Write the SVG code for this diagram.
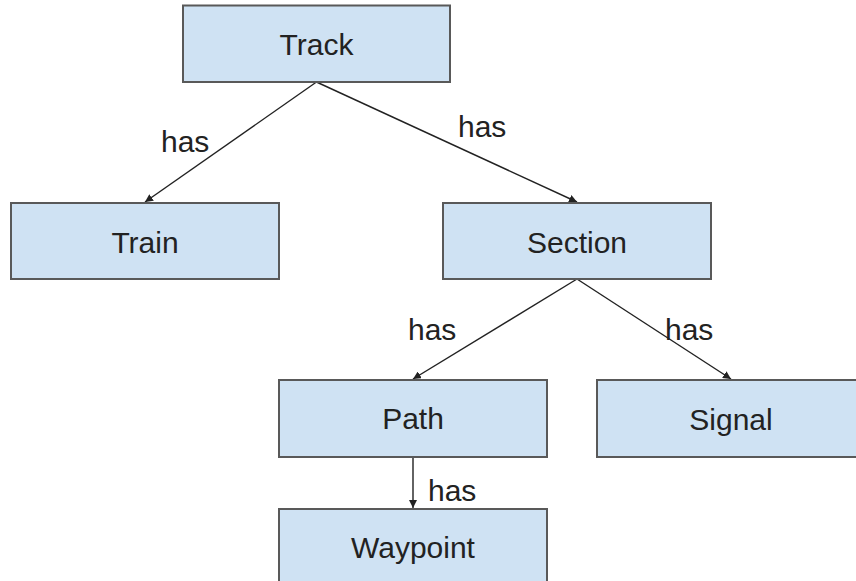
<svg xmlns="http://www.w3.org/2000/svg" width="856" height="581" viewBox="0 0 856 581">
<style>
.box{fill:#cfe2f3;stroke:#595959;stroke-width:2}
.lbl{font-family:"Liberation Sans",Arial,sans-serif;font-size:30px;fill:#222;text-anchor:middle}
.edge{stroke:#222;stroke-width:1.4;fill:none;marker-end:url(#ah)}
.el{font-family:"Liberation Sans",Arial,sans-serif;font-size:30px;fill:#222}
</style>
<defs>
<marker id="ah" viewBox="0 0 10 10" refX="10" refY="5" markerWidth="8" markerHeight="8" markerUnits="userSpaceOnUse" orient="auto">
<path d="M0,0 L10,5 L0,10 z" fill="#222"/>
</marker>
</defs>
<rect width="856" height="581" fill="#fff"/>
<g id="connectors">
<line class="edge" x1="316.5" y1="82" x2="145" y2="202"/>
<line class="edge" x1="316.5" y1="82" x2="577" y2="202"/>
<line class="edge" x1="577" y1="279" x2="413" y2="379"/>
<line class="edge" x1="577" y1="279" x2="731" y2="379"/>
<line class="edge" x1="413" y1="457" x2="413" y2="508"/>
<text class="el" x="161" y="152">has</text>
<text class="el" x="458" y="137">has</text>
<text class="el" x="408" y="340">has</text>
<text class="el" x="665" y="340">has</text>
<text class="el" x="428" y="501">has</text>
</g>
<g id="track"><rect class="box" x="183" y="5.5" width="267" height="76.5"/><text class="lbl" x="316.5" y="55">Track</text></g>
<g id="train"><rect class="box" x="11" y="203" width="268" height="76"/><text class="lbl" x="145" y="253">Train</text></g>
<g id="section"><rect class="box" x="443" y="203" width="268" height="76"/><text class="lbl" x="577" y="253">Section</text></g>
<g id="path"><rect class="box" x="279" y="380" width="268" height="77"/><text class="lbl" x="413" y="429">Path</text></g>
<g id="signal"><rect class="box" x="597" y="380" width="268" height="77"/><text class="lbl" x="731" y="430">Signal</text></g>
<g id="waypoint"><rect class="box" x="279" y="509" width="268" height="80"/><text class="lbl" x="413" y="558">Waypoint</text></g>
</svg>
